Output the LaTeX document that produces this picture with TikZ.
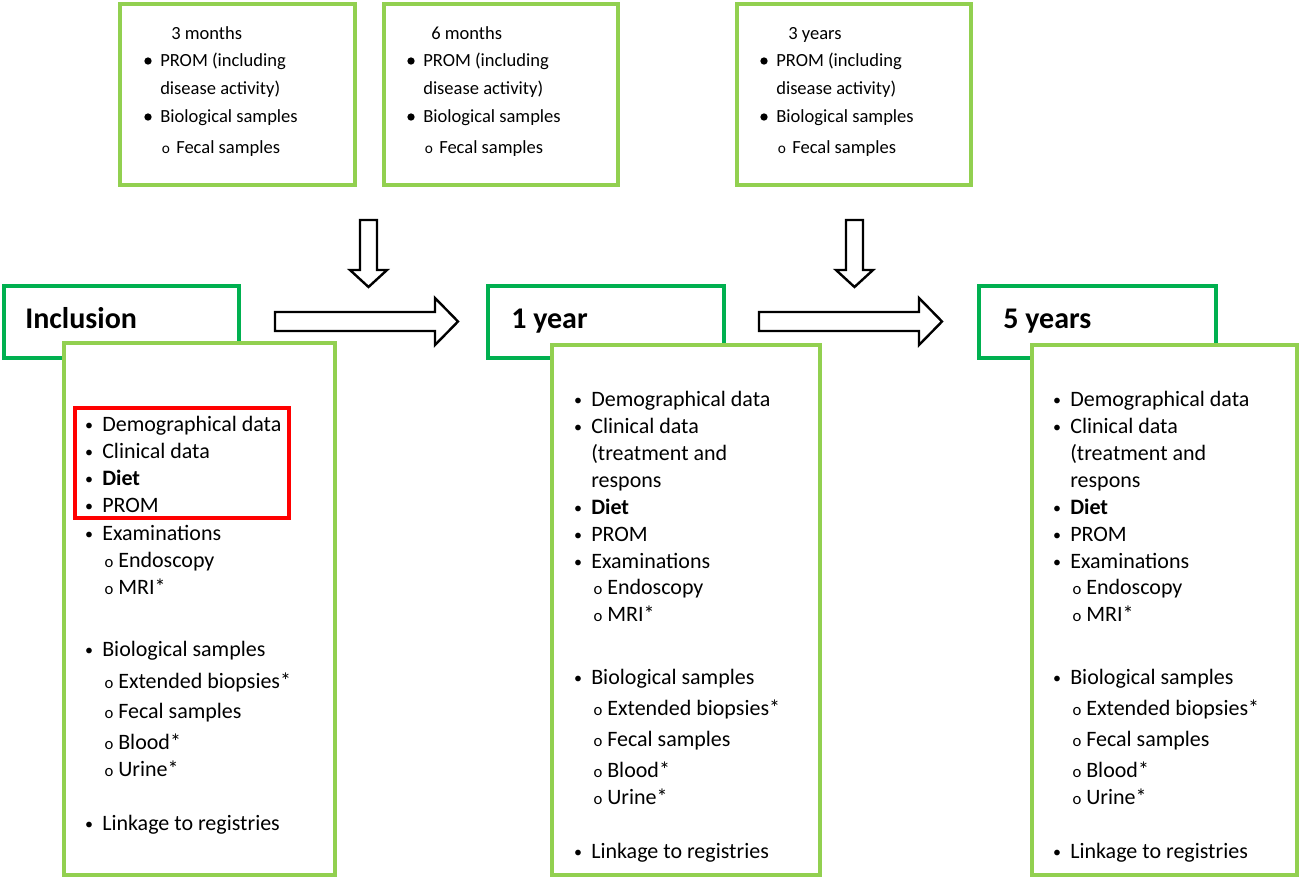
\documentclass[tikz,border=0pt]{standalone}
\usepackage{fontspec}
\setmainfont{Carlito}
\definecolor{lg}{HTML}{92D050}
\definecolor{dg}{HTML}{00B050}
\definecolor{rd}{HTML}{FF0000}
\newcommand\bitem[4]{\node[txt,anchor=base,font=\fontsize{12}{14}\selectfont] (#1-b) at ({#2-13},{#3-1}) {•}; \node[txt] (#1) at (#2,#3) {#4};}
\newcommand\sitem[4]{\node[txt,anchor=base,font=\fontsize{12.5}{14}\selectfont] (#1-b) at ({#2+7},#3) {o}; \node[txt] (#1) at ({#2+16},#3) {#4};}
\newcommand\citem[4]{\node[txt] (#1) at (#2,#3) {#4};}
\newcommand\titem[4]{\node[dot] (#1-b) at ({#2-12},{#3-5}) {}; \node[ttxt] (#1) at (#2,#3) {#4};}
\newcommand\tsub[4]{\node[ttxt,anchor=base,font=\fontsize{11.5}{14}\selectfont] (#1-b) at ({#2+6},#3) {o}; \node[ttxt] (#1) at ({#2+16},#3) {#4};}
\newcommand\tcont[4]{\node[ttxt] (#1) at (#2,#3) {#4};}
\begin{document}
\begin{tikzpicture}[x=0.75pt,y=-0.75pt,
  box/.style={draw=lg,line width=3pt,fill=white},
  hbox/.style={draw=dg,line width=3pt,fill=white},
  redbox/.style={draw=rd,line width=3pt},
  txt/.style={anchor=base west,inner sep=0pt,font=\fontsize{16.5}{20}\selectfont},
  ttxt/.style={anchor=base west,inner sep=0pt,font=\fontsize{13.9}{17}\selectfont},
  htxt/.style={anchor=base west,inner sep=0pt,font=\fontsize{22.5}{27}\selectfont\bfseries},
  dot/.style={circle,fill=black,inner sep=0pt,minimum size=5.5pt},
  barrow/.style={draw=black,line width=1.8pt,fill=white,line join=miter}]
\useasboundingbox (0,0) rectangle (1299,879);

% top boxes
\draw[box] (120,4) rectangle (355,185);
\draw[box] (384,4) rectangle (618,185);
\draw[box] (737,4) rectangle (971,185);

\tcont{ta0}{171}{39}{3 months}
\titem{ta1}{160}{66}{PROM (including}
\tcont{ta2}{160}{94}{disease activity)}
\titem{ta3}{160}{122}{Biological samples}
\tsub{ta4}{160}{153}{Fecal samples}

\tcont{tb0}{431}{39}{6 months}
\titem{tb1}{423}{66}{PROM (including}
\tcont{tb2}{423}{94}{disease activity)}
\titem{tb3}{423}{122}{Biological samples}
\tsub{tb4}{423}{153}{Fecal samples}

\tcont{tc0}{788}{39}{3 years}
\titem{tc1}{776}{66}{PROM (including}
\tcont{tc2}{776}{94}{disease activity)}
\titem{tc3}{776}{122}{Biological samples}
\tsub{tc4}{776}{153}{Fecal samples}

% down arrows
\draw[barrow] (360,220) -- (377,220) -- (377,270) -- (387,270) -- (368.5,287) -- (350,270) -- (360,270) -- cycle;
\draw[barrow] (846,220) -- (863,220) -- (863,270) -- (873,270) -- (854.5,287) -- (836,270) -- (846,270) -- cycle;

% right arrows
\draw[barrow] (275,312) -- (435,312) -- (435,298) -- (458,321.5) -- (435,345) -- (435,331) -- (275,331) -- cycle;
\draw[barrow] (759,312) -- (919,312) -- (919,298) -- (942,321.5) -- (919,345) -- (919,331) -- (759,331) -- cycle;

% header boxes
\draw[hbox] (4,286) rectangle (239,358);
\draw[hbox] (488,286) rectangle (724,358);
\draw[hbox] (979,286) rectangle (1216,358);
\node[htxt] (hinc) at (25,328) {Inclusion};
\node[htxt] (hone) at (511,328) {1 year};
\node[htxt] (hfive) at (1003,328) {5 years};

% content boxes
\draw[box] (64,343) rectangle (335,875);
\draw[box] (552,345) rectangle (820,875);
\draw[box] (1032,345) rectangle (1297,875);

\draw[redbox] (75,408) rectangle (289,518);

% Inclusion list
\bitem{i1}{102}{431}{Demographical data}
\bitem{i2}{102}{458}{Clinical data}
\bitem{i3}{102}{485}{\textbf{Diet}}
\bitem{i4}{102}{512}{PROM}
\bitem{i5}{102}{540}{Examinations}
\sitem{i6}{102}{567}{Endoscopy}
\sitem{i7}{102}{594}{MRI*}
\bitem{i8}{102}{656}{Biological samples}
\sitem{i9}{102}{688}{Extended biopsies*}
\sitem{i10}{102}{718}{Fecal samples}
\sitem{i11}{102}{749}{Blood*}
\sitem{i12}{102}{776}{Urine*}
\bitem{i13}{102}{830}{Linkage to registries}

% 1 year list
\bitem{o1}{591}{406}{Demographical data}
\bitem{o2}{591}{433}{Clinical data}
\citem{o3}{591}{460}{(treatment and}
\citem{o4}{591}{487}{respons}
\bitem{o5}{591}{514}{\textbf{Diet}}
\bitem{o6}{591}{541}{PROM}
\bitem{o7}{591}{568}{Examinations}
\sitem{o8}{591}{594}{Endoscopy}
\sitem{o9}{591}{621}{MRI*}
\bitem{o10}{591}{684}{Biological samples}
\sitem{o11}{591}{715}{Extended biopsies*}
\sitem{o12}{591}{746}{Fecal samples}
\sitem{o13}{591}{777}{Blood*}
\sitem{o14}{591}{804}{Urine*}
\bitem{o15}{591}{858}{Linkage to registries}

% 5 years list
\bitem{f1}{1070}{406}{Demographical data}
\bitem{f2}{1070}{433}{Clinical data}
\citem{f3}{1070}{460}{(treatment and}
\citem{f4}{1070}{487}{respons}
\bitem{f5}{1070}{514}{\textbf{Diet}}
\bitem{f6}{1070}{541}{PROM}
\bitem{f7}{1070}{568}{Examinations}
\sitem{f8}{1070}{594}{Endoscopy}
\sitem{f9}{1070}{621}{MRI*}
\bitem{f10}{1070}{684}{Biological samples}
\sitem{f11}{1070}{715}{Extended biopsies*}
\sitem{f12}{1070}{746}{Fecal samples}
\sitem{f13}{1070}{777}{Blood*}
\sitem{f14}{1070}{804}{Urine*}
\bitem{f15}{1070}{858}{Linkage to registries}
\end{tikzpicture}
\end{document}
